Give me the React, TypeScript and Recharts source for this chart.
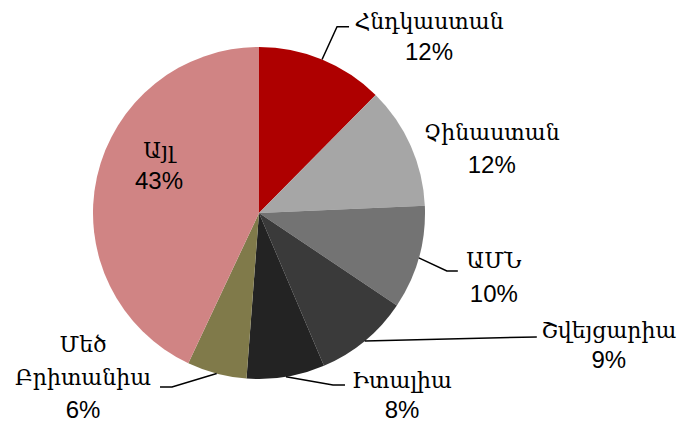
import { PieChart, Pie, Cell } from "recharts"

const countries = ["Հնդկաստան", "Չինաստան", "ԱՄՆ", "Շվեյցարիա", "Իտալիա", "Մեծ Բրիտանիա", "Այլ"]
const shares = [12.4, 11.9, 10.1, 9.2, 7.6, 5.8, 43.0]
const colors = ["#AE0000", "#A6A6A6", "#737373", "#3A3A3A", "#232323", "#807A4A", "#D08484"]

// label placement relative to the point on the rim at each slice's mid angle
const labelLayout = [
  { dx: 107, nameDy: [-30.8], pctDy: 0.2, leader: [[15, -32.8], [27, -32.8]] },
  { dx: 81, nameDy: [-5.6], pctDy: 27.4, leader: [] },
  { dx: 75, nameDy: [10.2], pctDy: 44.2, leader: [[28, 13.2], [39, 13.2]] },
  { dx: 244, nameDy: [-3], pctDy: 27, leader: [[172, -4]] },
  { dx: 116, nameDy: [11.2], pctDy: 41.2, leader: [[47, 8.2], [59, 8.2]] },
  { dx: -133.7, nameDy: [-21.5, 11.5], pctDy: 44.5, leader: [[-44.7, 13.5], [-56.7, 13.5]] },
  { dx: 62, nameDy: [-18.8], pctDy: 12.2, leader: [] },
]

const data = countries.map((name, i) => ({ name, value: shares[i] }))

const RAD = Math.PI / 180

function renderLabel(props: any) {
  const { cx, cy, midAngle, outerRadius, index } = props
  const ex = cx + outerRadius * Math.cos(-midAngle * RAD)
  const ey = cy + outerRadius * Math.sin(-midAngle * RAD)
  const lay = labelLayout[index]
  const nameParts = lay.nameDy.length > 1 ? countries[index].split(" ") : [countries[index]]
  const pts = [[0, 0], ...lay.leader].map(([x, y]) => `${ex + x},${ey + y}`).join(" ")
  return (
    <g key={"lbl" + index}>
      {lay.leader.length > 0 && <polyline points={pts} fill="none" stroke="#000" strokeWidth={1.5} />}
      {nameParts.map((p, j) => (
        <text key={j} x={ex + lay.dx} y={ey + lay.nameDy[j]} textAnchor="middle" fontFamily="DejaVu Serif" fontSize={22} fill="#000">
          {p}
        </text>
      ))}
      <text x={ex + lay.dx} y={ey + lay.pctDy} textAnchor="middle" fontFamily="Liberation Sans, Arial" fontSize={24} fill="#000">
        {Math.round(shares[index])}%
      </text>
    </g>
  )
}

export default function App() {
  return (
    <div style={{ position: "absolute", left: 0, top: 0, background: "#fff" }}>
      <PieChart width={680} height={423} margin={{ top: 0, right: 0, bottom: 0, left: 0 }}>
        <Pie
          data={data}
          dataKey="value"
          nameKey="name"
          cx={259}
          cy={213}
          outerRadius={166}
          startAngle={90}
          endAngle={-270}
          stroke="none"
          label={renderLabel}
          labelLine={false}
          isAnimationActive={false}
        >
          {data.map((d, i) => (
            <Cell key={d.name} fill={colors[i]} />
          ))}
        </Pie>
      </PieChart>
    </div>
  )
}
